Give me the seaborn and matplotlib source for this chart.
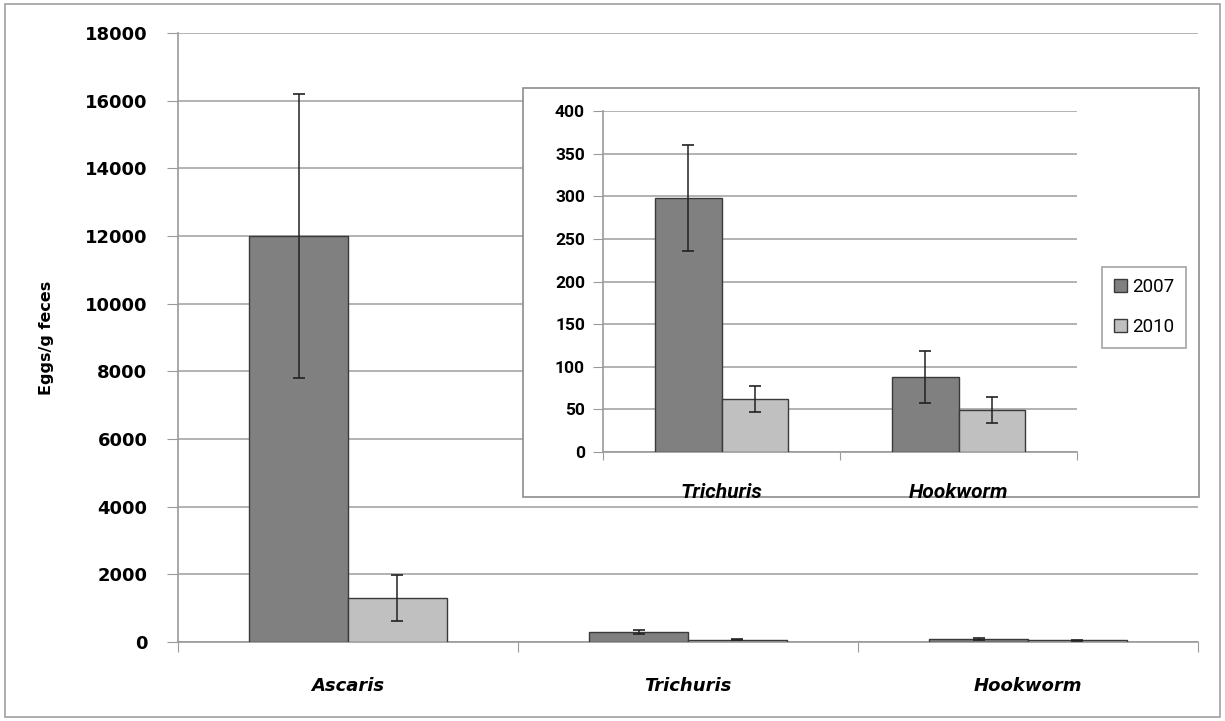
import matplotlib
matplotlib.use('Agg')
import matplotlib.pyplot as plt
import seaborn as sns
import pandas as pd
import numpy as np
from matplotlib.patches import Rectangle

sns.set_style("white")
plt.rcParams['text.color'] = 'black'
plt.rcParams['xtick.color'] = 'black'
plt.rcParams['ytick.color'] = 'black'
plt.rcParams['axes.labelcolor'] = 'black'

# Data
parasites = ['Ascaris', 'Trichuris', 'Hookworm']
years = ['2007', '2010']
mean_2007 = [12000, 298, 88]
mean_2010 = [1300, 62, 49]
err_2007 = [4200, 62, 30]
err_2010 = [680, 15, 15]

main_ticks = [0, 2000, 4000, 6000, 8000, 10000, 12000, 14000, 16000, 18000]
inset_ticks = [0, 50, 100, 150, 200, 250, 300, 350, 400]

dark = '#808080'
light = '#c0c0c0'
edge = '#3a3a3a'
grid = '#a6a6a6'
spine_c = '#9a9a9a'

df = pd.DataFrame({
    'parasite': parasites * 2,
    'year': [years[0]] * 3 + [years[1]] * 3,
    'value': mean_2007 + mean_2010,
    'err': err_2007 + err_2010,
})

fig = plt.figure(figsize=(12.25, 7.21), dpi=100)

# outer chart border
fig.patches.append(Rectangle((0.004, 0.006), 0.992, 0.988, transform=fig.transFigure,
                             fill=False, edgecolor='#a0a0a0', lw=1.2))


def draw_bars(ax, data, width):
    sns.barplot(data=data, x='parasite', y='value', hue='year',
                palette=[dark, light], width=width, errorbar=None,
                edgecolor=edge, linewidth=1.0, ax=ax, zorder=3, legend=False)
    cats = list(data['parasite'].unique())
    n = len(cats)
    for i, yr in enumerate(years):
        sub = data[data['year'] == yr].set_index('parasite').loc[cats]
        xs = np.arange(n) + (i - 0.5) * width / 2
        ax.errorbar(xs, sub['value'], yerr=sub['err'], fmt='none',
                    ecolor='#222222', elinewidth=1.1, capsize=4, capthick=1.2, zorder=4)


def style_axes(ax, tick_len):
    ax.yaxis.grid(True, color=grid, lw=1.2, zorder=0)
    ax.set_axisbelow(True)
    for s in ['top', 'right']:
        ax.spines[s].set_visible(False)
    for s in ['left', 'bottom']:
        ax.spines[s].set_color(spine_c)
        ax.spines[s].set_linewidth(1.2)
    ax.tick_params(axis='x', which='major', length=tick_len, color=spine_c,
                   direction='out', bottom=True)
    ax.set_xlabel('')


# ---- main axes ----
ax = fig.add_axes([0.1453, 0.1096, 0.8327, 0.8444])
draw_bars(ax, df, 0.58)
ax.set_ylim(0, 18000)
ax.set_xlim(-0.5, 2.5)
ax.set_yticks(main_ticks)
style_axes(ax, 7)
ax.set_xticks([-0.5, 0.5, 1.5, 2.5], minor=False)
ax.set_xticklabels([])
ax.set_xticks([0, 1, 2], minor=True)
ax.set_xticklabels(parasites, minor=True, fontsize=13, fontweight='bold', style='italic')
ax.tick_params(axis='x', which='minor', length=0, pad=25)
ax.tick_params(axis='y', length=8, color=spine_c, direction='out', left=True, pad=14, labelsize=13)
for t in ax.get_yticklabels():
    t.set_fontweight('bold')
ax.set_ylabel('Eggs/g feces', fontsize=11.5, fontweight='bold', labelpad=22)

# ---- inset frame ----
fig.patches.append(Rectangle((523 / 1225, 1 - 497 / 721), (1199 - 523) / 1225, (497 - 88) / 721,
                             transform=fig.transFigure, facecolor='white',
                             edgecolor='#8c8c8c', lw=1.2, zorder=5))

# ---- inset axes ----
ins_font = ['Roboto', 'DejaVu Sans']
ins_df = df[df['parasite'] != 'Ascaris'].copy()
axi = fig.add_axes([603 / 1225, 1 - 452 / 721, (1077 - 603) / 1225, (452 - 111) / 721], zorder=6)
axi.patch.set_alpha(0)
draw_bars(axi, ins_df, 0.56)
axi.set_ylim(0, 400)
axi.set_xlim(-0.5, 1.5)
axi.set_yticks(inset_ticks)
style_axes(axi, 6)
axi.set_xticks([-0.5, 0.5, 1.5], minor=False)
axi.set_xticklabels([])
axi.set_xticks([0, 1], minor=True)
axi.set_xticklabels(parasites[1:], minor=True, fontsize=15, fontweight='bold',
                    style='italic', family=ins_font)
axi.tick_params(axis='x', which='minor', length=0, pad=22)
axi.tick_params(axis='y', length=7, color=spine_c, direction='out', left=True, pad=6)
axi.set_yticklabels([str(t) for t in inset_ticks], fontsize=12.5, fontweight='bold', family=ins_font)
axi.set_ylabel('')

# legend
handles = [Rectangle((0, 0), 1, 1, facecolor=c, edgecolor=edge, lw=1.0) for c in [dark, light]]
leg = fig.legend(handles, years, loc='center', bbox_to_anchor=(1144 / 1225, 1 - 307 / 721),
                 frameon=True, fancybox=False, edgecolor='#8c8c8c',
                 prop={'family': ins_font, 'size': 13.5}, handlelength=0.7, handleheight=0.7,
                 handletextpad=0.3, labelspacing=1.2, borderpad=0.6, borderaxespad=0)
leg.set_zorder(7)
leg.get_frame().set_linewidth(1.2)

fig.savefig('out.png', dpi=100, facecolor='white')
